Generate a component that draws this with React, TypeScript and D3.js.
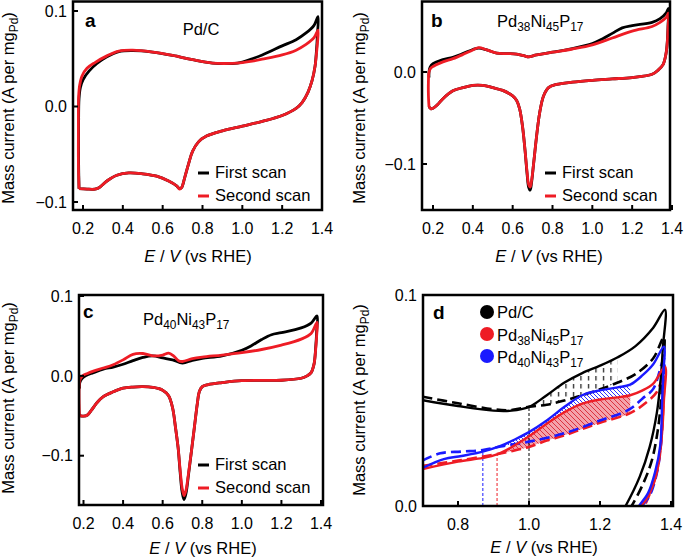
import React from "react";
import * as d3 from "d3";

type Pt = [number, number];

// ---------------- Panel a: Pd/C ----------------
const aFirstAnodic: Pt[] = [[0.18,-0.086],[0.178,-0.06],[0.178,-0.02],[0.18,0.008],[0.187,0.02],[0.2,0.028],[0.23,0.037],[0.27,0.045],[0.32,0.052],[0.38,0.0575],[0.45,0.0585],[0.55,0.057],[0.65,0.0535],[0.75,0.049],[0.85,0.0455],[0.95,0.045],[1.0,0.0465],[1.05,0.05],[1.1,0.054],[1.2,0.0635],[1.27,0.07],[1.32,0.077],[1.36,0.085],[1.38,0.094]];
const aFirstCathodic: Pt[] = [[1.38,0.094],[1.377,0.075],[1.372,0.058],[1.365,0.042],[1.35,0.027],[1.33,0.015],[1.3,0.004],[1.27,-0.002],[1.2,-0.0094],[1.1,-0.0155],[1.0,-0.0205],[0.9,-0.0255],[0.82,-0.031],[0.78,-0.037],[0.75,-0.047],[0.73,-0.06],[0.71,-0.075],[0.695,-0.085],[0.685,-0.086],[0.67,-0.083],[0.63,-0.078],[0.57,-0.073],[0.5,-0.0705],[0.43,-0.0695],[0.37,-0.072],[0.32,-0.078],[0.28,-0.085],[0.26,-0.0865],[0.22,-0.0865],[0.18,-0.086]];
const aSecondAnodic: Pt[] = [[0.18,-0.086],[0.177,-0.06],[0.177,-0.02],[0.178,0.01],[0.183,0.022],[0.195,0.032],[0.22,0.04],[0.26,0.046],[0.32,0.053],[0.38,0.058],[0.45,0.059],[0.55,0.057],[0.65,0.0535],[0.75,0.049],[0.85,0.0455],[0.95,0.0452],[1.0,0.046],[1.05,0.0475],[1.1,0.0495],[1.2,0.054],[1.27,0.059],[1.32,0.065],[1.36,0.072],[1.38,0.08]];
const aSecondCathodic: Pt[] = [[1.38,0.08],[1.377,0.066],[1.372,0.055],[1.365,0.042],[1.35,0.027],[1.33,0.015],[1.3,0.004],[1.27,-0.002],[1.2,-0.0094],[1.1,-0.0155],[1.0,-0.0205],[0.9,-0.0255],[0.82,-0.031],[0.78,-0.037],[0.75,-0.047],[0.73,-0.06],[0.71,-0.075],[0.695,-0.085],[0.685,-0.0865],[0.67,-0.083],[0.63,-0.078],[0.57,-0.073],[0.5,-0.0705],[0.43,-0.0695],[0.37,-0.072],[0.32,-0.078],[0.28,-0.085],[0.26,-0.0865],[0.22,-0.0865],[0.18,-0.086]];

// ---------------- Panel b: Pd38Ni45P17 ----------------
const bFirstAnodic: Pt[] = [[0.18,-0.006],[0.18,0.0],[0.185,0.005],[0.2,0.009],[0.25,0.0134],[0.3,0.016],[0.35,0.02],[0.4,0.0245],[0.43,0.026],[0.47,0.024],[0.52,0.0205],[0.57,0.02],[0.62,0.0195],[0.66,0.0175],[0.68,0.0165],[0.72,0.0185],[0.8,0.0215],[0.9,0.0255],[1.0,0.031],[1.05,0.036],[1.1,0.042],[1.15,0.048],[1.2,0.0505],[1.3,0.054],[1.34,0.058],[1.37,0.064],[1.382,0.069]];
const bFirstCathodic: Pt[] = [[1.382,0.069],[1.38,0.05],[1.377,0.035],[1.37,0.02],[1.355,0.008],[1.33,0.002],[1.3,-0.0025],[1.2,-0.006],[1.1,-0.0075],[1.0,-0.009],[0.9,-0.011],[0.82,-0.0135],[0.78,-0.017],[0.755,-0.026],[0.735,-0.045],[0.72,-0.07],[0.705,-0.1],[0.695,-0.12],[0.688,-0.1285],[0.68,-0.125],[0.672,-0.11],[0.662,-0.085],[0.65,-0.06],[0.635,-0.04],[0.62,-0.031],[0.6,-0.026],[0.55,-0.02],[0.5,-0.017],[0.45,-0.0145],[0.4,-0.0145],[0.35,-0.017],[0.3,-0.0205],[0.25,-0.029],[0.22,-0.036],[0.2,-0.0395],[0.19,-0.04],[0.18,-0.038]];
const bSecondAnodic: Pt[] = [[0.18,-0.038],[0.177,-0.025],[0.177,-0.01],[0.18,0.0],[0.188,0.004],[0.2,0.006],[0.25,0.011],[0.3,0.0145],[0.35,0.019],[0.4,0.024],[0.43,0.0265],[0.47,0.024],[0.52,0.0205],[0.57,0.02],[0.62,0.0195],[0.66,0.0175],[0.68,0.0165],[0.72,0.0185],[0.8,0.0215],[0.9,0.025],[1.0,0.0295],[1.1,0.037],[1.2,0.0445],[1.3,0.0495],[1.34,0.054],[1.37,0.059],[1.382,0.064]];
const bSecondCathodic: Pt[] = [[1.382,0.064],[1.38,0.048],[1.377,0.034],[1.37,0.02],[1.355,0.008],[1.33,0.002],[1.3,-0.0025],[1.2,-0.006],[1.1,-0.0075],[1.0,-0.009],[0.9,-0.011],[0.82,-0.0135],[0.78,-0.017],[0.755,-0.026],[0.735,-0.045],[0.72,-0.07],[0.705,-0.1],[0.695,-0.118],[0.688,-0.125],[0.68,-0.122],[0.672,-0.108],[0.662,-0.085],[0.65,-0.06],[0.635,-0.04],[0.62,-0.031],[0.6,-0.026],[0.55,-0.02],[0.5,-0.017],[0.45,-0.0145],[0.4,-0.0145],[0.35,-0.017],[0.3,-0.0205],[0.25,-0.029],[0.22,-0.036],[0.2,-0.0395],[0.19,-0.04],[0.18,-0.038]];

// ---------------- Panel c: Pd40Ni43P17 ----------------
const cFirstAnodic: Pt[] = [[0.18,-0.016],[0.181,-0.009],[0.19,-0.004],[0.21,0.0],[0.25,0.004],[0.3,0.0085],[0.35,0.011],[0.4,0.0145],[0.45,0.019],[0.5,0.023],[0.55,0.025],[0.6,0.0225],[0.65,0.02],[0.7,0.016],[0.75,0.0195],[0.8,0.022],[0.9,0.025],[1.0,0.032],[1.05,0.038],[1.1,0.0455],[1.15,0.0515],[1.2,0.054],[1.3,0.06],[1.35,0.066],[1.38,0.075]];
const cFirstCathodic: Pt[] = [[1.38,0.075],[1.378,0.055],[1.373,0.035],[1.365,0.015],[1.35,0.004],[1.33,0.0],[1.3,-0.003],[1.2,-0.0055],[1.0,-0.006],[0.9,-0.0085],[0.83,-0.011],[0.8,-0.0135],[0.785,-0.02],[0.775,-0.035],[0.76,-0.065],[0.745,-0.095],[0.73,-0.125],[0.718,-0.147],[0.708,-0.155],[0.698,-0.145],[0.688,-0.12],[0.678,-0.09],[0.665,-0.065],[0.65,-0.04],[0.63,-0.025],[0.6,-0.018],[0.55,-0.0145],[0.5,-0.0135],[0.45,-0.014],[0.4,-0.0155],[0.35,-0.02],[0.3,-0.026],[0.27,-0.033],[0.24,-0.043],[0.22,-0.049],[0.2,-0.0505],[0.185,-0.05],[0.18,-0.048]];
const cSecondAnodic: Pt[] = [[0.18,-0.05],[0.178,-0.035],[0.178,-0.015],[0.182,-0.005],[0.195,0.0],[0.22,0.003],[0.25,0.006],[0.3,0.0098],[0.35,0.014],[0.4,0.02],[0.45,0.027],[0.5,0.028],[0.55,0.025],[0.6,0.026],[0.63,0.0285],[0.655,0.025],[0.68,0.019],[0.7,0.018],[0.75,0.0215],[0.8,0.0235],[0.9,0.026],[1.0,0.029],[1.1,0.033],[1.2,0.0385],[1.3,0.046],[1.35,0.053],[1.38,0.067]];
const cSecondCathodic: Pt[] = [[1.38,0.067],[1.378,0.05],[1.373,0.033],[1.365,0.015],[1.35,0.004],[1.33,0.0],[1.3,-0.003],[1.2,-0.0055],[1.0,-0.006],[0.9,-0.0085],[0.83,-0.011],[0.8,-0.0135],[0.785,-0.02],[0.775,-0.035],[0.76,-0.065],[0.745,-0.095],[0.73,-0.123],[0.718,-0.143],[0.708,-0.15],[0.698,-0.14],[0.688,-0.117],[0.678,-0.09],[0.665,-0.065],[0.65,-0.04],[0.63,-0.025],[0.6,-0.018],[0.55,-0.0145],[0.5,-0.0135],[0.45,-0.014],[0.4,-0.0155],[0.35,-0.02],[0.3,-0.026],[0.27,-0.033],[0.24,-0.043],[0.22,-0.049],[0.2,-0.0505],[0.185,-0.05],[0.18,-0.05]];

// ---------------- Panel d: zoom, first (solid) vs second (dashed) scans ----------------
const dPdCFirst: Pt[] = [[0.7,0.0502],[0.8,0.0474],[0.9,0.0452],[0.95,0.0452],[1.0,0.047],[1.05,0.0525],[1.1,0.0585],[1.15,0.063],[1.2,0.0665],[1.25,0.0705],[1.3,0.0758],[1.35,0.0845],[1.383,0.093],[1.377,0.075],[1.371,0.06],[1.36,0.044],[1.34,0.028],[1.312,0.0139],[1.272,0.0],[1.25,-0.006]];
const dPdCSecond: Pt[] = [[0.7,0.0518],[0.8,0.0487],[0.9,0.0458],[0.95,0.0455],[1.0,0.047],[1.05,0.048],[1.1,0.05],[1.15,0.0525],[1.2,0.0553],[1.25,0.0585],[1.3,0.0625],[1.35,0.07],[1.38,0.08],[1.377,0.065],[1.372,0.05],[1.362,0.035],[1.345,0.021],[1.32,0.01],[1.289,0.0],[1.27,-0.005]];
const dPd38First: Pt[] = [[0.7,0.0175],[0.8,0.021],[0.87,0.0228],[0.91,0.0245],[0.95,0.0278],[1.0,0.033],[1.05,0.039],[1.1,0.0445],[1.15,0.0485],[1.2,0.0505],[1.25,0.0515],[1.285,0.0525],[1.32,0.0548],[1.35,0.058],[1.383,0.066],[1.38,0.05],[1.375,0.035],[1.365,0.02],[1.35,0.01],[1.33,0.003],[1.315,0.0],[1.3,-0.003]];
const dPd38Second: Pt[] = [[0.7,0.019],[0.8,0.0215],[0.9,0.0243],[0.95,0.026],[1.0,0.028],[1.05,0.031],[1.1,0.0335],[1.15,0.0365],[1.2,0.0395],[1.285,0.044],[1.33,0.049],[1.36,0.054],[1.38,0.0625],[1.378,0.047],[1.373,0.032],[1.362,0.018],[1.345,0.008],[1.325,0.0],[1.31,-0.004]];
const dPd40First: Pt[] = [[0.7,0.018],[0.76,0.0222],[0.81,0.0237],[0.87,0.0258],[0.92,0.0285],[0.96,0.0315],[1.0,0.035],[1.05,0.0405],[1.1,0.047],[1.15,0.0525],[1.2,0.0548],[1.25,0.0562],[1.285,0.0575],[1.32,0.062],[1.35,0.0672],[1.38,0.0755],[1.378,0.062],[1.375,0.05],[1.37,0.029],[1.355,0.016],[1.335,0.006],[1.31,0.0],[1.3,-0.003]];
const dPd40Second: Pt[] = [[0.7,0.0215],[0.75,0.025],[0.81,0.0258],[0.87,0.0265],[0.92,0.0282],[1.0,0.0305],[1.1,0.0345],[1.2,0.0405],[1.28,0.0455],[1.32,0.051],[1.35,0.0555],[1.38,0.07],[1.378,0.055],[1.375,0.04],[1.37,0.026],[1.358,0.014],[1.34,0.005],[1.318,0.0],[1.3,-0.004]];

// onset potentials (V) and hatched ranges (V)
const onsetPdC = 1.0;
const onsetPd38 = 0.91;
const onsetPd40 = 0.87;
const hatchPdC: [number, number] = [1.0, 1.25];
const hatchPd38: [number, number] = [0.91, 1.285];
const hatchPd40: [number, number] = [0.87, 1.285];

// ticks
const cvXTicks = [0.2, 0.4, 0.6, 0.8, 1.0, 1.2, 1.4];
const aYTicks = [-0.1, 0.0, 0.1];
const bYTicks = [-0.1, 0.0];
const cYTicks = [-0.1, 0.0, 0.1];
const dXTicks = [0.8, 1.0, 1.2, 1.4];
const dYTicks = [0.0, 0.1];

const scanLabels = ["First scan", "Second scan"];
const catalystPdC = "Pd/C";
const catalystPd38: [string, string][] = [["Pd", "38"], ["Ni", "45"], ["P", "17"]];
const catalystPd40: [string, string][] = [["Pd", "40"], ["Ni", "43"], ["P", "17"]];

const FONT = '"Liberation Sans", Arial, Helvetica, sans-serif';
const BLACK = "#000000";
const RED = "#ee1c25";
const BLUE = "#1a1aff";
const PINK = "#f4a2ab";

type Scale = d3.ScaleLinear<number, number>;
interface Box { l: number; t: number; r: number; b: number }

const fmt = d3.format(".1f");

function mkLine(xs: Scale, ys: Scale) {
  return d3.line<Pt>().x((d) => xs(d[0])).y((d) => ys(d[1])).curve(d3.curveCatmullRom.alpha(0.5));
}

function interpAt(arr: Pt[], x: number): number {
  for (let i = 0; i < arr.length - 1; i++) {
    const [x0, y0] = arr[i];
    const [x1, y1] = arr[i + 1];
    if (x1 <= x0) break;
    if (x >= x0 && x <= x1) return y0 + ((x - x0) / (x1 - x0)) * (y1 - y0);
  }
  return arr[0][1];
}

function anodic(arr: Pt[]): Pt[] {
  const out: Pt[] = [];
  for (let i = 0; i < arr.length; i++) {
    out.push(arr[i]);
    if (i + 1 < arr.length && arr[i + 1][0] < arr[i][0]) break;
  }
  return out;
}

function bandPath(top: Pt[], bottom: Pt[], xs: Scale, ys: Scale) {
  const lg = mkLine(xs, ys);
  const t = lg(top) || "";
  const b = lg([...bottom].reverse()) || "";
  return t + "L" + b.slice(1) + "Z";
}

function Formula({ parts, size }: { parts: [string, string][]; size: number }) {
  const sub = size * 0.72;
  const shift = size * 0.27;
  const nodes: React.ReactNode[] = [];
  parts.forEach(([el, n], i) => {
    nodes.push(
      <tspan key={"e" + i} dy={i === 0 ? 0 : -shift} fontSize={size}>
        {el}
      </tspan>
    );
    nodes.push(
      <tspan key={"n" + i} dy={shift} fontSize={sub}>
        {n}
      </tspan>
    );
  });
  return <>{nodes}</>;
}

interface PanelProps {
  id: string;
  box: Box;
  xs: Scale;
  ys: Scale;
  xTicks: number[];
  yTicks: number[];
  letter: string;
  letterPos: [number, number];
  xLabelPos: [number, number];
  yLabelPos: [number, number];
  children?: React.ReactNode;
}

function Panel(p: PanelProps) {
  const { box, xs, ys } = p;
  const tick = 5;
  return (
    <g>
      <defs>
        <clipPath id={"clip-" + p.id}>
          <rect x={box.l} y={box.t} width={box.r - box.l} height={box.b - box.t} />
        </clipPath>
      </defs>
      <g clipPath={`url(#clip-${p.id})`}>{p.children}</g>
      {p.xTicks.map((t) => (
        <g key={"xt" + t}>
          <line x1={xs(t)} x2={xs(t)} y1={box.b} y2={box.b - tick} stroke={BLACK} strokeWidth={2} />
          <text x={xs(t)} y={box.b + 24} textAnchor="middle" fontSize={16} fontFamily={FONT}>
            {fmt(t)}
          </text>
        </g>
      ))}
      {p.yTicks.map((t) => (
        <g key={"yt" + t}>
          <line x1={box.l} x2={box.l + tick} y1={ys(t)} y2={ys(t)} stroke={BLACK} strokeWidth={2} />
          <text x={box.l - 6} y={ys(t)} dy="0.36em" textAnchor="end" fontSize={16} fontFamily={FONT}>
            {fmt(t)}
          </text>
        </g>
      ))}
      <rect x={box.l} y={box.t} width={box.r - box.l} height={box.b - box.t} fill="none" stroke={BLACK} strokeWidth={2.5} />
      <text x={p.letterPos[0]} y={p.letterPos[1]} fontSize={19} fontWeight="bold" fontFamily={FONT}>
        {p.letter}
      </text>
      <text x={p.xLabelPos[0]} y={p.xLabelPos[1]} textAnchor="middle" fontSize={16.5} fontFamily={FONT}>
        <tspan fontStyle="italic">E</tspan>
        {" / "}
        <tspan fontStyle="italic">V</tspan>
        {" (vs RHE)"}
      </text>
      <text
        transform={`translate(${p.yLabelPos[0]},${p.yLabelPos[1]}) rotate(-90)`}
        textAnchor="middle"
        fontSize={16.5}
        fontFamily={FONT}
      >
        {"Mass current (A per mg"}
        <tspan fontSize={12} dy={4}>Pd</tspan>
        <tspan dy={-4}>)</tspan>
      </text>
    </g>
  );
}

function CVPanel(props: {
  id: string; box: Box; xs: Scale; ys: Scale; yTicks: number[]; letter: string;
  letterPos: [number, number]; xLabelPos: [number, number]; yLabelPos: [number, number];
  first: Pt[][]; second: Pt[][]; title: React.ReactNode; legendPos: [number, number];
}) {
  const lg = mkLine(props.xs, props.ys);
  const [lx, ly] = props.legendPos;
  return (
    <g>
      <Panel
        id={props.id} box={props.box} xs={props.xs} ys={props.ys} xTicks={cvXTicks} yTicks={props.yTicks}
        letter={props.letter} letterPos={props.letterPos} xLabelPos={props.xLabelPos} yLabelPos={props.yLabelPos}
      >
        <path d={lg([...props.first[0], ...props.first[1].slice(1)]) || ""} fill="none" stroke={BLACK} strokeWidth={2.8} strokeLinejoin="round" />
        <path d={lg([...props.second[0], ...props.second[1].slice(1)]) || ""} fill="none" stroke={RED} strokeWidth={2.8} strokeLinejoin="round" />
      </Panel>
      {props.title}
      {scanLabels.map((s, i) => (
        <g key={s}>
          <line x1={lx} x2={lx + 11} y1={ly + i * 23 - 5} y2={ly + i * 23 - 5} stroke={i === 0 ? BLACK : RED} strokeWidth={3} />
          <text x={lx + 17} y={ly + i * 23} fontSize={16.5} fontFamily={FONT}>{s}</text>
        </g>
      ))}
    </g>
  );
}

export default function App() {
  const axs = d3.scaleLinear().domain([0.2, 1.4]).range([83, 322]);
  const ays = d3.scaleLinear().domain([-0.1, 0.1]).range([202, 11]);
  const bxs = d3.scaleLinear().domain([0.2, 1.4]).range([433, 672]);
  const bys = d3.scaleLinear().domain([-0.1, 0.0]).range([164, 72]);
  const cxs = d3.scaleLinear().domain([0.2, 1.4]).range([83.5, 321]);
  const cys = d3.scaleLinear().domain([-0.1, 0.1]).range([455.7, 296]);
  const dxs = d3.scaleLinear().domain([0.8, 1.4]).range([458, 671]);
  const dys = d3.scaleLinear().domain([0.0, 0.1]).range([506, 295]);

  const boxA: Box = { l: 73, t: 1.5, r: 322, b: 210 };
  const boxB: Box = { l: 422, t: 1.5, r: 670, b: 210 };
  const boxC: Box = { l: 79, t: 295, r: 323, b: 505 };
  const boxD: Box = { l: 423, t: 295, r: 673, b: 506 };

  const dl = mkLine(dxs, dys);

  const legendD: { color: string; label: React.ReactNode }[] = [
    { color: BLACK, label: catalystPdC },
    { color: RED, label: <Formula parts={catalystPd38} size={16.5} /> },
    { color: BLUE, label: <Formula parts={catalystPd40} size={16.5} /> },
  ];

  const onsets: { x: number; curve: Pt[]; color: string }[] = [
    { x: onsetPdC, curve: anodic(dPdCFirst), color: BLACK },
    { x: onsetPd38, curve: anodic(dPd38First), color: RED },
    { x: onsetPd40, curve: anodic(dPd40First), color: BLUE },
  ];

  return (
    <svg width={685} height={559} style={{ position: "absolute", left: 0, top: 0, background: "#fff" }} fontFamily={FONT}>
      <defs>
        <pattern id="vdash" width={7.5} height={8} patternUnits="userSpaceOnUse">
          <line x1={3.5} y1={0} x2={3.5} y2={4.5} stroke={BLACK} strokeWidth={1.1} />
        </pattern>
        <pattern id="bdiag" width={4} height={4} patternUnits="userSpaceOnUse">
          <path d="M-1,-1L5,5M-1,3L1,5M3,-1L5,1" stroke={BLUE} strokeWidth={0.9} />
        </pattern>
        <pattern id="rdiag" width={5} height={5} patternUnits="userSpaceOnUse">
          <path d="M-1,-1L6,6M-1,4L1,6M4,-1L6,1" stroke="#d4101e" strokeWidth={0.9} />
        </pattern>
        <clipPath id="hx-pdc">
          <rect x={dxs(hatchPdC[0])} y={295} width={dxs(hatchPdC[1]) - dxs(hatchPdC[0])} height={211} />
        </clipPath>
        <clipPath id="hx-pd40">
          <rect x={dxs(hatchPd40[0])} y={295} width={dxs(hatchPd40[1]) - dxs(hatchPd40[0])} height={211} />
        </clipPath>
        <clipPath id="hx-pd38">
          <rect x={dxs(hatchPd38[0])} y={295} width={dxs(hatchPd38[1]) - dxs(hatchPd38[0])} height={211} />
        </clipPath>
      </defs>

      <CVPanel
        id="a" box={boxA} xs={axs} ys={ays} yTicks={aYTicks} letter="a" letterPos={[85, 27]}
        xLabelPos={[198, 262]} yLabelPos={[14, 108]}
        first={[aFirstAnodic, aFirstCathodic]} second={[aSecondAnodic, aSecondCathodic]}
        legendPos={[198, 178]}
        title={<text x={201} y={35} textAnchor="middle" fontSize={16.5} fontFamily={FONT}>{catalystPdC}</text>}
      />
      <CVPanel
        id="b" box={boxB} xs={bxs} ys={bys} yTicks={bYTicks} letter="b" letterPos={[431, 27]}
        xLabelPos={[549, 262]} yLabelPos={[365, 108]}
        first={[bFirstAnodic, bFirstCathodic]} second={[bSecondAnodic, bSecondCathodic]}
        legendPos={[545, 178]}
        title={<text x={497} y={27} fontSize={16.5} fontFamily={FONT}><Formula parts={catalystPd38} size={16.5} /></text>}
      />
      <CVPanel
        id="c" box={boxC} xs={cxs} ys={cys} yTicks={cYTicks} letter="c" letterPos={[83, 318]}
        xLabelPos={[203, 554]} yLabelPos={[14, 398]}
        first={[cFirstAnodic, cFirstCathodic]} second={[cSecondAnodic, cSecondCathodic]}
        legendPos={[198, 470]}
        title={<text x={143} y={325} fontSize={16.5} fontFamily={FONT}><Formula parts={catalystPd40} size={16.5} /></text>}
      />
      <Panel
        id="d" box={boxD} xs={dxs} ys={dys} xTicks={dXTicks} yTicks={dYTicks} letter="d" letterPos={[433, 319]}
        xLabelPos={[544, 553]} yLabelPos={[365, 400]}
      >
        <path d={bandPath(anodic(dPdCFirst), anodic(dPdCSecond), dxs, dys)} fill="url(#vdash)" clipPath="url(#hx-pdc)" />
        <path d={bandPath(anodic(dPd40First), anodic(dPd40Second), dxs, dys)} fill="url(#bdiag)" clipPath="url(#hx-pd40)" />
        <g clipPath="url(#hx-pd38)">
          <path d={bandPath(anodic(dPd38First), anodic(dPd38Second), dxs, dys)} fill={PINK} />
          <path d={bandPath(anodic(dPd38First), anodic(dPd38Second), dxs, dys)} fill="url(#rdiag)" opacity={0.85} />
        </g>
        {onsets.map((o) => (
          <line key={o.x} x1={dxs(o.x)} x2={dxs(o.x)} y1={dys(0)} y2={dys(interpAt(o.curve, o.x))} stroke={o.color} strokeWidth={1} strokeDasharray="3,2" />
        ))}
        <path d={dl(dPdCSecond) || ""} fill="none" stroke={BLACK} strokeWidth={2.6} strokeDasharray="10,5" />
        <path d={dl(dPd38Second) || ""} fill="none" stroke={RED} strokeWidth={2.6} strokeDasharray="10,5" />
        <path d={dl(dPd40Second) || ""} fill="none" stroke={BLUE} strokeWidth={2.6} strokeDasharray="10,5" />
        <path d={dl(dPdCFirst) || ""} fill="none" stroke={BLACK} strokeWidth={2.4} />
        <path d={dl(dPd38First) || ""} fill="none" stroke={RED} strokeWidth={2.4} />
        <path d={dl(dPd40First) || ""} fill="none" stroke={BLUE} strokeWidth={2.4} />
      </Panel>
      {legendD.map((l, i) => (
        <g key={i}>
          <circle cx={487} cy={312 + i * 22} r={7} fill={l.color} />
          <text x={497} y={318 + i * 22.5} fontSize={16.5} fontFamily={FONT}>{l.label}</text>
        </g>
      ))}
    </svg>
  );
}
